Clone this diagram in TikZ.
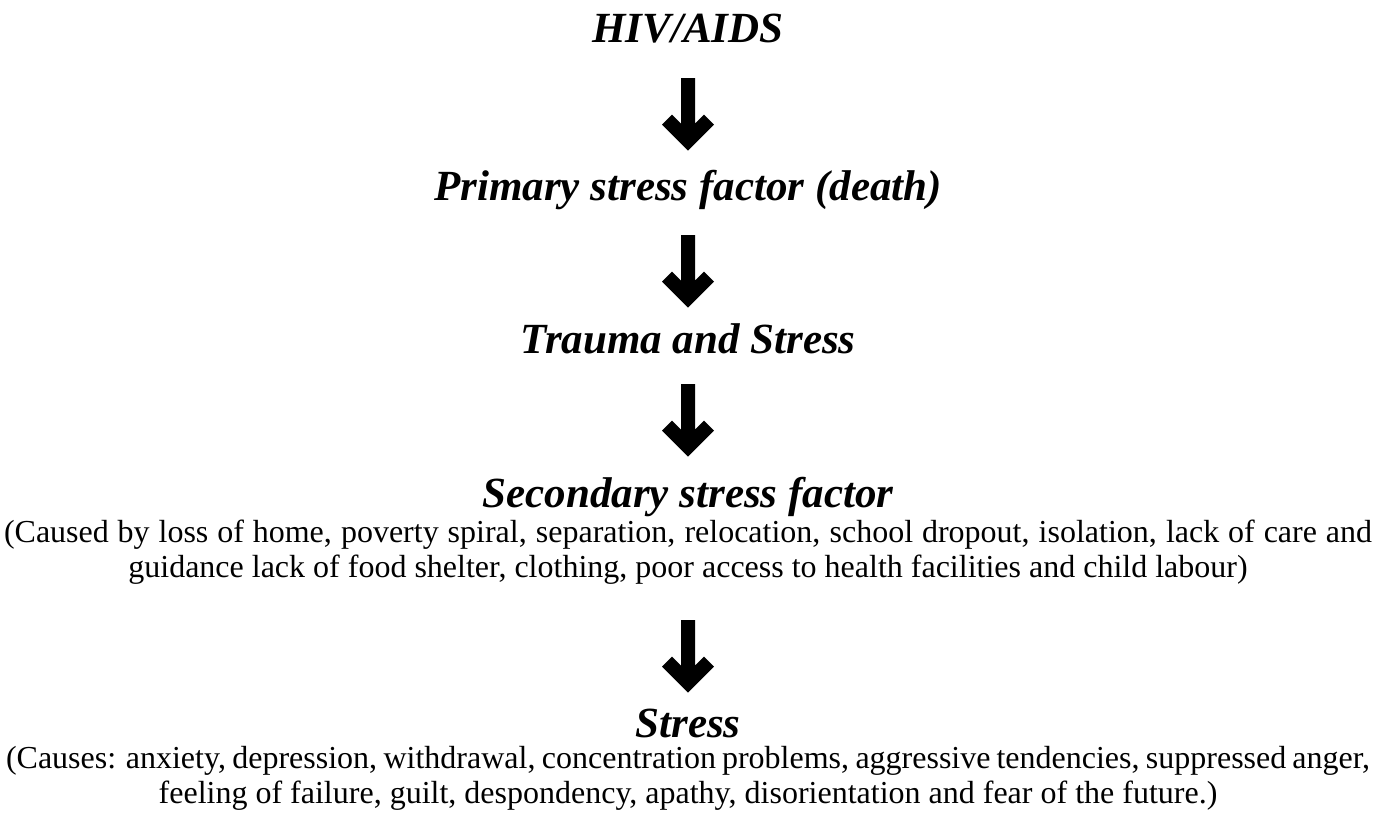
\documentclass[tikz,border=0pt]{standalone}
\usepackage{fontspec}
\setmainfont{Liberation Serif}
\usetikzlibrary{calc}
\tikzset{
  head/.style={font=\fontsize{21.5}{25}\selectfont\bfseries\itshape, inner sep=0pt, anchor=base},
  para/.style={font=\fontsize{16}{17.5}\selectfont, align=center, inner sep=0pt, anchor=base},
  bigarrow/.style={fill=black}
}
\newcommand{\downarrowshape}[1]{%
  \fill[bigarrow] #1 ++(-7,0) -- ++(0,45.7) -- ++(-9,-9) -- ++(-10,10) -- ++(26,26) -- ++(26,-26) -- ++(-10,-10) -- ++(-9,9) -- ++(0,-45.7) -- cycle;}
\begin{document}
\begin{tikzpicture}[x=0.5pt,y=-0.5pt]
\useasboundingbox (0,0) rectangle (1379,820);
\node[head] (hiv) at (688,42) {HIV/AIDS};
\node[head] (prim) at (688,200) {Primary stress factor (death)};
\node[head] (trauma) at (688,353) {Trauma and Stress};
\node[head] (sec) at (688,507) {Secondary stress factor};
\node[para] (secp) at (688,577) {\makebox[684pt][s]{(Caused by loss of home, poverty spiral, separation, relocation, school dropout, isolation, lack of care and}\\ guidance lack of food shelter, clothing, poor access to health facilities and child labour)};
\node[head] (stress) at (688,737) {Stress};
\node[para] (stressp) at (688,803) {\makebox[682pt][s]{(Causes: anxiety, depression, withdrawal, concentration problems, aggressive tendencies, suppressed anger,}\\ feeling of failure, guilt, despondency, apathy, disorientation and fear of the future.)};
\downarrowshape{($(hiv.base)+(0,36)$)}
\downarrowshape{($(prim.base)+(0,35)$)}
\downarrowshape{($(trauma.base)+(0,31)$)}
\downarrowshape{($(secp.base)+(0,43)$)}
\end{tikzpicture}
\end{document}
